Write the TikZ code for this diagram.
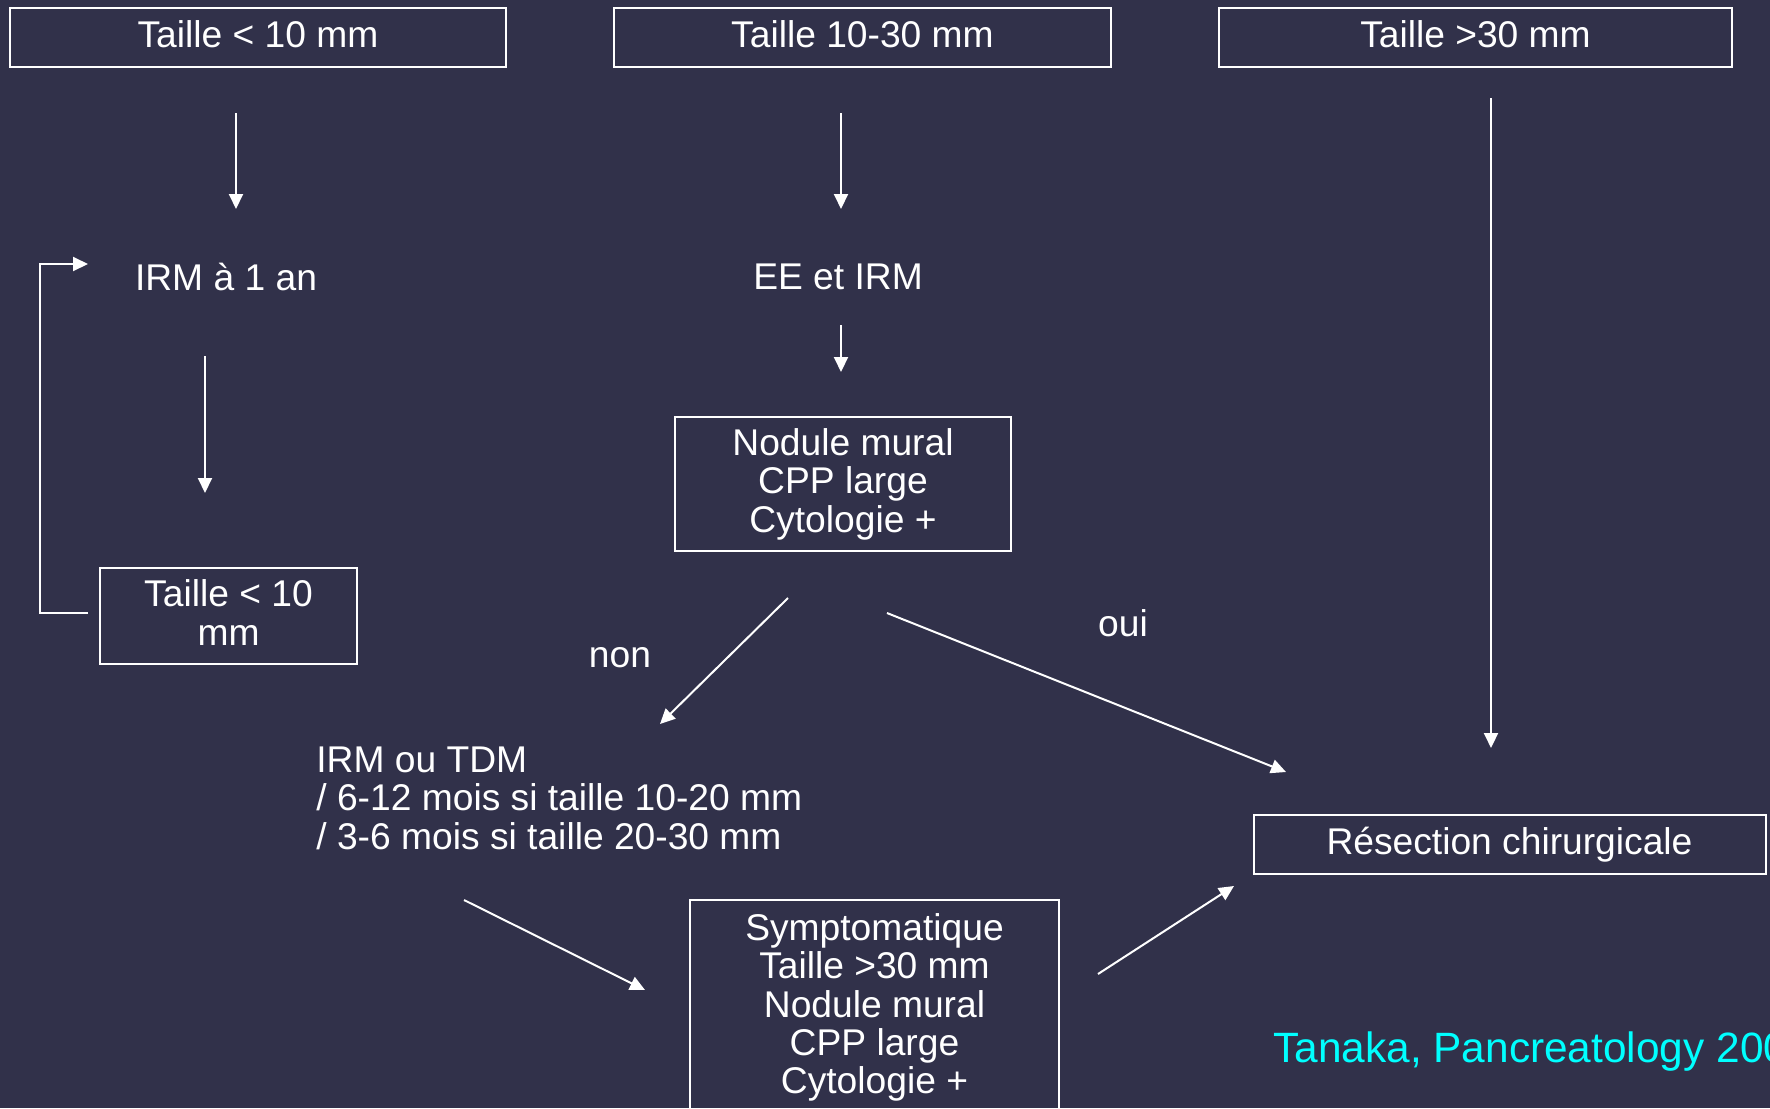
\documentclass[tikz,border=0pt]{standalone}
\usepackage{fontspec}
\setmainfont{Liberation Sans}
\usetikzlibrary{arrows.meta}
\definecolor{bgcol}{RGB}{49,49,74}
\definecolor{citecol}{RGB}{0,255,255}
\begin{document}
\begin{tikzpicture}[x=0.5pt,y=-0.5pt,
  every node/.style={text=white,font=\fontsize{18.6}{19.2}\selectfont,inner sep=0pt},
  boxnode/.style={draw=white,line width=1pt,align=center,minimum height=29.5pt},
  txt/.style={align=center},
  conn/.style={draw=white,line width=1pt,-{Triangle[length=7.5pt,width=7pt]}}]
\useasboundingbox[fill=bgcol] (0,0) rectangle (1770,1108);
\clip (0,0) rectangle (1770,1108);
% top row
\node[boxnode,minimum width=248pt,text depth=3.6pt] (tA) at (258,37.5) {Taille < 10 mm};
\node[boxnode,minimum width=248.5pt,text depth=3.6pt] (tB) at (862.5,37.5) {Taille 10-30 mm};
\node[boxnode,minimum width=256.5pt,text depth=3.6pt] (tC) at (1475.5,37.5) {Taille >30 mm};
% second row
\node[txt] (irm1) at (226,277) {IRM à 1 an};
\node[txt] (ee) at (838,277) {EE et IRM};
\node[boxnode,minimum width=168pt,minimum height=67pt] (nod) at (843,484) {Nodule mural\\CPP large\\Cytologie +};
\node[boxnode,minimum width=128.5pt,minimum height=48pt,text depth=3.4pt] (small) at (228.5,616) {Taille < 10\\mm};
\node[txt] (non) at (620,658) {non};
\node[txt] (oui) at (1123,623) {oui};
\node[align=left,anchor=west] (irmtdm) at (316,798) {IRM ou TDM\\/ 6-12 mois si taille 10-20 mm\\/ 3-6 mois si taille 20-30 mm};
\node[boxnode,minimum width=256pt] (res) at (1509.5,844.5) {Résection chirurgicale};
\node[txt] (sympt) at (874.5,1007.5) {Symptomatique\\Taille >30 mm\\Nodule mural\\CPP large\\Cytologie +};
\draw[white,line width=1pt] (690,900) rectangle (1059,1140);
\node[anchor=west,text=citecol,font=\fontsize{21.2}{22}\selectfont] (tanaka) at (1273,1052) {Tanaka, Pancreatology 2006};
% connector end points
\coordinate (a1s) at (236,113); \coordinate (a1e) at (236,209);
\coordinate (b1s) at (841,113); \coordinate (b1e) at (841,209);
\coordinate (c1s) at (1491,98); \coordinate (c1e) at (1491,748);
\coordinate (b2s) at (841,325); \coordinate (b2e) at (841,372);
\coordinate (a2s) at (205,356); \coordinate (a2e) at (205,493);
\coordinate (lps) at (88,613); \coordinate (lpe) at (88,264);
\coordinate (nos) at (788,598); \coordinate (noe) at (660,724);
\coordinate (ous) at (887,613); \coordinate (oue) at (1286,772);
\coordinate (its) at (464,900); \coordinate (ite) at (645,990);
\coordinate (srs) at (1098,974); \coordinate (sre) at (1234,886);
% connectors
\draw[conn] (a1s) -- (a1e);
\draw[conn] (b1s) -- (b1e);
\draw[conn] (c1s) -- (c1e);
\draw[conn] (b2s) -- (b2e);
\draw[conn] (a2s) -- (a2e);
\draw[conn] (lps) -- (40,613) -- (40,264) -- (lpe);
\draw[conn] (nos) -- (noe);
\draw[conn] (ous) -- (oue);
\draw[conn] (its) -- (ite);
\draw[conn] (srs) -- (sre);
\end{tikzpicture}
\end{document}
